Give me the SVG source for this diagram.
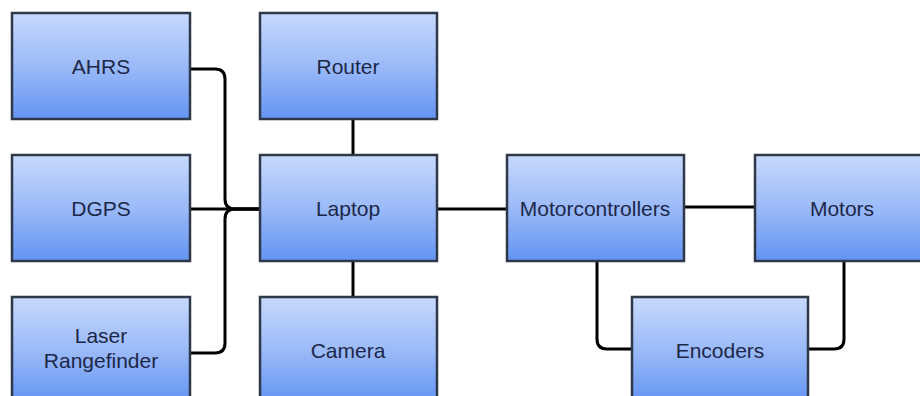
<svg xmlns="http://www.w3.org/2000/svg" width="920" height="396" viewBox="0 0 920 396">
<defs>
<linearGradient id="g" x1="0" y1="0" x2="0" y2="1">
<stop offset="0" stop-color="#c8d9fc"/>
<stop offset="0.5" stop-color="#9bbaf8"/>
<stop offset="1" stop-color="#6394f2"/>
</linearGradient>
<style>
.box{fill:url(#g);stroke:#2e3848;stroke-width:2.5}
.t{font-family:"Liberation Sans",Arial,sans-serif;font-size:21px;fill:#1c2848;text-anchor:middle}
.c{fill:none;stroke:#000;stroke-width:3}
</style>
</defs>
<rect width="920" height="396" fill="#fff"/>
<g id="connectors">
<path class="c" d="M190,69 H215 Q225,69 225,79 V199 Q225,209 235,209 H260"/>
<path class="c" d="M190,209 H260"/>
<path class="c" d="M190,353 H215 Q225,353 225,343 V219 Q225,209 235,209 H260"/>
<path class="c" d="M353,119 V155"/>
<path class="c" d="M353,261 V297"/>
<path class="c" d="M437,209 H507"/>
<path class="c" d="M684,207 H755"/>
<path class="c" d="M597,261 V339 Q597,349 607,349 H632"/>
<path class="c" d="M844,261 V339 Q844,349 834,349 H808"/>
</g>
<g id="ahrs"><rect class="box" x="12" y="13" width="178" height="106"/><text class="t" x="101" y="74">AHRS</text></g>
<g id="dgps"><rect class="box" x="12" y="155" width="178" height="106"/><text class="t" x="101" y="216">DGPS</text></g>
<g id="laser"><rect class="box" x="12" y="297" width="178" height="106"/><text class="t" x="101" y="343">Laser</text><text class="t" x="101" y="368">Rangefinder</text></g>
<g id="router"><rect class="box" x="260" y="13" width="177" height="106"/><text class="t" x="348" y="74">Router</text></g>
<g id="laptop"><rect class="box" x="260" y="155" width="177" height="106"/><text class="t" x="348" y="216">Laptop</text></g>
<g id="camera"><rect class="box" x="260" y="297" width="177" height="106"/><text class="t" x="348" y="358">Camera</text></g>
<g id="motorcontrollers"><rect class="box" x="507" y="155" width="177" height="106"/><text class="t" x="595" y="216">Motorcontrollers</text></g>
<g id="motors"><rect class="box" x="755" y="155" width="178" height="106"/><text class="t" x="842" y="216">Motors</text></g>
<g id="encoders"><rect class="box" x="632" y="297" width="176" height="106"/><text class="t" x="720" y="358">Encoders</text></g>
</svg>
